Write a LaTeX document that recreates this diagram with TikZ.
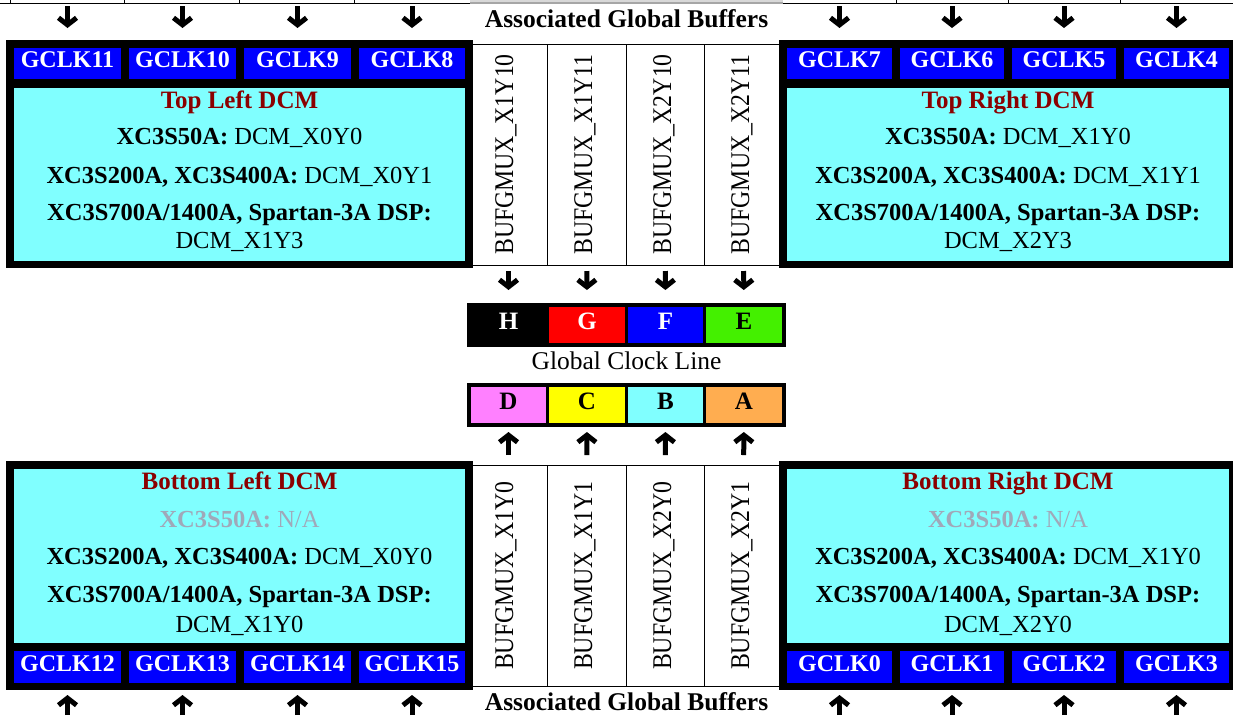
\documentclass[tikz,border=0pt]{standalone}
\usepackage{fontspec}
\setmainfont{Liberation Serif}
\newfontfamily\narrowserif[FakeStretch=0.88]{Liberation Serif}
\usetikzlibrary{arrows.meta}
\definecolor{clkblue}{HTML}{0000FF}
\definecolor{dcmcyan}{HTML}{80FFFF}
\definecolor{dcmred}{HTML}{8B0000}
\definecolor{nagrey}{HTML}{A0A8B9}
\definecolor{clkred}{HTML}{FF0000}
\definecolor{clkgreen}{HTML}{44F000}
\definecolor{clkpink}{HTML}{FF80FF}
\definecolor{clkyellow}{HTML}{FFFF00}
\definecolor{clkorange}{HTML}{FFAD50}
\definecolor{cutgrey}{HTML}{D8D8D8}
\begin{document}
\begin{tikzpicture}[x=1pt,y=-1pt,
  framebox/.style={fill=black, inner sep=0pt, outer sep=0pt},
  body/.style={fill=dcmcyan, inner sep=0pt, outer sep=0pt},
  gclk/.style={fill=clkblue, text=white, inner sep=0pt, outer sep=0pt, text depth=7pt,
    font=\fontsize{24}{26}\selectfont\bfseries},
  bufcell/.style={draw=black, line width=1pt, inner sep=0pt, outer sep=0pt, minimum height=221pt},
  buftxt/.style={rotate=90, anchor=base, inner sep=0pt, font=\narrowserif\fontsize{27}{30}\selectfont},
  cell/.style={inner sep=0pt, outer sep=0pt, minimum height=36pt, text depth=8pt,
    font=\fontsize{25}{28}\selectfont\bfseries},
  dtitle/.style={anchor=base, inner sep=0pt, text=dcmred, font=\fontsize{25}{27}\selectfont\bfseries},
  dline/.style={anchor=base, inner sep=0pt, font=\fontsize{24.5}{27}\selectfont},
  captxt/.style={anchor=base, inner sep=0pt, font=\fontsize{25.5}{28}\selectfont},
  arr/.style={line width=5pt, -{Straight Barb[length=7pt,width=18pt]}}
]
\useasboundingbox (0,0) rectangle (1233,715);

% cut-off table above
\fill[cutgrey] (470,0) rectangle (783,3.5);
\draw[gray!70, line width=1.5pt] (470,3) -- (783,3);
\draw[line width=1pt] (0,3) -- (470,3) (783,3) -- (1233,3);
\draw[line width=1pt] (10,0)--(10,3) (124,0)--(124,3) (239,0)--(239,3) (354,0)--(354,3)
  (896,0)--(896,3) (1008,0)--(1008,3) (1120,0)--(1120,3);

% BUFGMUX tables
\node[bufcell, minimum width=77pt] (bt1) at (508.5,154.5) {};
\node[bufcell, minimum width=79pt] (bt2) at (586.5,154.5) {};
\node[bufcell, minimum width=78pt] (bt3) at (665,154.5) {};
\node[bufcell, minimum width=78pt] (bt4) at (743,154.5) {};
\node[buftxt] (bt1t) at (513,154.5) {BUFGMUX\_X1Y10};
\node[buftxt] (bt2t) at (592,154.5) {BUFGMUX\_X1Y11};
\node[buftxt] (bt3t) at (671,154.5) {BUFGMUX\_X2Y10};
\node[buftxt] (bt4t) at (749,154.5) {BUFGMUX\_X2Y11};

\node[bufcell, minimum width=77pt] (bb1) at (508.5,575.5) {};
\node[bufcell, minimum width=79pt] (bb2) at (586.5,575.5) {};
\node[bufcell, minimum width=78pt] (bb3) at (665,575.5) {};
\node[bufcell, minimum width=78pt] (bb4) at (743,575.5) {};
\node[buftxt] (bb1t) at (513,575.5) {BUFGMUX\_X1Y0};
\node[buftxt] (bb2t) at (592,575.5) {BUFGMUX\_X1Y1};
\node[buftxt] (bb3t) at (671,575.5) {BUFGMUX\_X2Y0};
\node[buftxt] (bb4t) at (749,575.5) {BUFGMUX\_X2Y1};

\node[captxt, font=\fontsize{25.5}{28}\selectfont\bfseries] (agbt) at (626.5,27) {Associated Global Buffers};
\node[captxt, font=\fontsize{25.5}{28}\selectfont\bfseries] (agbb) at (626.5,710) {Associated Global Buffers};

% Top left DCM
\node[framebox, minimum width=467pt, minimum height=228pt] (tlf) at (239.5,154) {};
\node[body, minimum width=451pt, minimum height=173pt] (tlb) at (239.5,174.5) {};
\node[gclk, minimum width=107pt, minimum height=31pt] (g11) at (67.5,63.5) {GCLK11};
\node[gclk, minimum width=107pt, minimum height=31pt] (g10) at (182.5,63.5) {GCLK10};
\node[gclk, minimum width=107pt, minimum height=31pt] (g9) at (297.5,63.5) {GCLK9};
\node[gclk, minimum width=106pt, minimum height=31pt] (g8) at (412,63.5) {GCLK8};
\node[dtitle] (tlt) at (239.5,108) {Top Left DCM};
\node[dline] (tl1) at (239.5,144) {\textbf{XC3S50A:} DCM\_X0Y0};
\node[dline] (tl2) at (239.5,183) {\textbf{XC3S200A, XC3S400A:} DCM\_X0Y1};
\node[dline] (tl3) at (239.5,220) {\textbf{XC3S700A/1400A, Spartan-3A DSP:}};
\node[dline] (tl4) at (239.5,248) {DCM\_X1Y3};

% Top right DCM
\node[framebox, minimum width=454pt, minimum height=228pt] (trf) at (1006,154) {};
\node[body, minimum width=442pt, minimum height=173pt] (trb) at (1008,174.5) {};
\node[gclk, minimum width=105pt, minimum height=31pt] (g7) at (839.5,63.5) {GCLK7};
\node[gclk, minimum width=104pt, minimum height=31pt] (g6) at (952,63.5) {GCLK6};
\node[gclk, minimum width=104pt, minimum height=31pt] (g5) at (1064,63.5) {GCLK5};
\node[gclk, minimum width=105pt, minimum height=31pt] (g4) at (1176.5,63.5) {GCLK4};
\node[dtitle] (trt) at (1008,108) {Top Right DCM};
\node[dline] (tr1) at (1008,144) {\textbf{XC3S50A:} DCM\_X1Y0};
\node[dline] (tr2) at (1008,183) {\textbf{XC3S200A, XC3S400A:} DCM\_X1Y1};
\node[dline] (tr3) at (1008,220) {\textbf{XC3S700A/1400A, Spartan-3A DSP:}};
\node[dline] (tr4) at (1008,248) {DCM\_X2Y3};

% Bottom left DCM
\node[framebox, minimum width=467pt, minimum height=229pt] (blf) at (239.5,575.5) {};
\node[body, minimum width=451pt, minimum height=174pt] (blb) at (239.5,556) {};
\node[gclk, minimum width=107pt, minimum height=32pt] (g12) at (67.5,667) {GCLK12};
\node[gclk, minimum width=107pt, minimum height=32pt] (g13) at (182.5,667) {GCLK13};
\node[gclk, minimum width=107pt, minimum height=32pt] (g14) at (297.5,667) {GCLK14};
\node[gclk, minimum width=106pt, minimum height=32pt] (g15) at (412,667) {GCLK15};
\node[dtitle] (blt) at (239.5,489) {Bottom Left DCM};
\node[dline, text=nagrey] (bl1) at (239.5,527) {\textbf{XC3S50A:} N/A};
\node[dline] (bl2) at (239.5,564) {\textbf{XC3S200A, XC3S400A:} DCM\_X0Y0};
\node[dline] (bl3) at (239.5,602) {\textbf{XC3S700A/1400A, Spartan-3A DSP:}};
\node[dline] (bl4) at (239.5,632) {DCM\_X1Y0};

% Bottom right DCM
\node[framebox, minimum width=454pt, minimum height=229pt] (brf) at (1006,575.5) {};
\node[body, minimum width=442pt, minimum height=174pt] (brb) at (1008,556) {};
\node[gclk, minimum width=105pt, minimum height=32pt] (g0) at (839.5,667) {GCLK0};
\node[gclk, minimum width=104pt, minimum height=32pt] (g1) at (952,667) {GCLK1};
\node[gclk, minimum width=104pt, minimum height=32pt] (g2) at (1064,667) {GCLK2};
\node[gclk, minimum width=105pt, minimum height=32pt] (g3) at (1176.5,667) {GCLK3};
\node[dtitle] (brt) at (1008,489) {Bottom Right DCM};
\node[dline, text=nagrey] (br1) at (1008,527) {\textbf{XC3S50A:} N/A};
\node[dline] (br2) at (1008,564) {\textbf{XC3S200A, XC3S400A:} DCM\_X1Y0};
\node[dline] (br3) at (1008,602) {\textbf{XC3S700A/1400A, Spartan-3A DSP:}};
\node[dline] (br4) at (1008,632) {DCM\_X2Y0};

% Global clock line bars
\node[framebox, minimum width=319pt, minimum height=44pt] (hbar) at (626.5,325) {};
\node[cell, fill=black, text=white, minimum width=75pt] (H) at (508.5,325) {H};
\node[cell, fill=clkred, text=white, minimum width=76pt] (G) at (587,325) {G};
\node[cell, fill=clkblue, text=white, minimum width=75pt] (F) at (665.5,325) {F};
\node[cell, fill=clkgreen, minimum width=76pt] (E) at (744,325) {E};
\node[captxt] (gcl) at (626.5,369) {Global Clock Line};
\node[framebox, minimum width=319pt, minimum height=44pt] (dbar) at (626.5,405) {};
\node[cell, fill=clkpink, minimum width=75pt] (D) at (508.5,405) {D};
\node[cell, fill=clkyellow, minimum width=76pt] (C) at (587,405) {C};
\node[cell, fill=dcmcyan, minimum width=75pt] (B) at (665.5,405) {B};
\node[cell, fill=clkorange, minimum width=76pt] (A) at (744,405) {A};

% arrows into top GCLK buffers
\foreach \n/\x in {g11/67.5, g10/182.5, g9/297.5, g8/412, g7/839.5, g6/952, g5/1064, g4/1176.5}{
  \coordinate (in\n) at (\x,6);
  \draw[arr, shorten >=20pt] (in\n) -- (\n);
}
% arrows into bottom GCLK buffers
\foreach \n/\x in {g12/67.5, g13/182.5, g14/297.5, g15/412, g0/839.5, g1/952, g2/1064, g3/1176.5}{
  \coordinate (in\n) at (\x,715);
  \draw[arr, shorten >=12pt] (in\n) -- (\n);
}
% BUFGMUX to global clock lines
\draw[arr, shorten <=6pt, shorten >=17pt] (bt1) -- (H);
\draw[arr, shorten <=6pt, shorten >=17pt] (bt2) -- (G);
\draw[arr, shorten <=6pt, shorten >=17pt] (bt3) -- (F);
\draw[arr, shorten <=6pt, shorten >=17pt] (bt4) -- (E);
\draw[arr, shorten <=10pt, shorten >=9pt] (bb1) -- (D);
\draw[arr, shorten <=10pt, shorten >=9pt] (bb2) -- (C);
\draw[arr, shorten <=10pt, shorten >=9pt] (bb3) -- (B);
\draw[arr, shorten <=10pt, shorten >=9pt] (bb4) -- (A);
\end{tikzpicture}
\end{document}
